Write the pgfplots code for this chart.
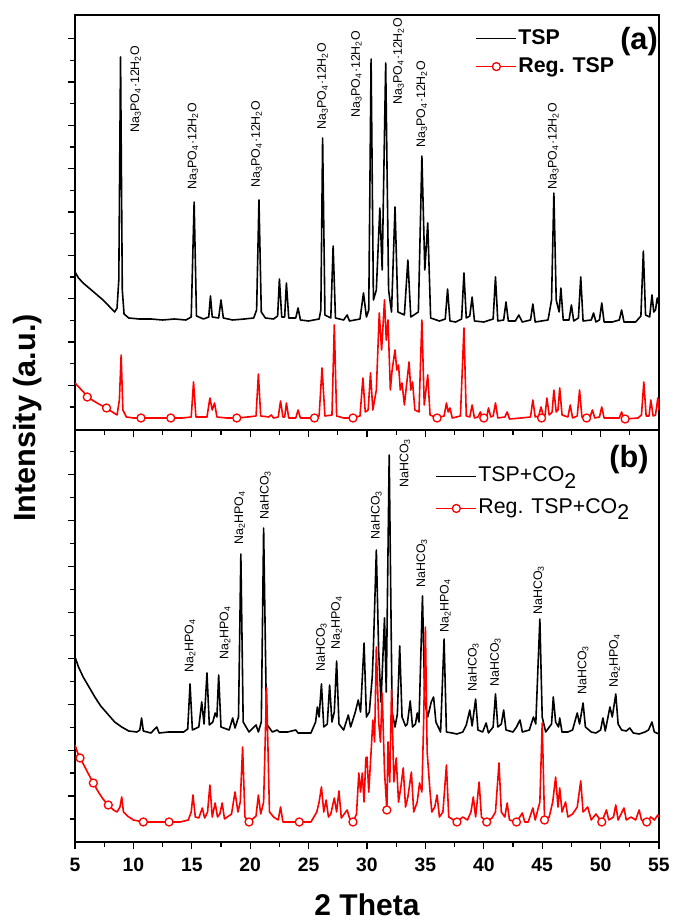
\documentclass[border=0pt]{standalone}
\usepackage{fontspec}
\setmainfont{Liberation Sans}
\usepackage{pgfplots}
\pgfplotsset{compat=1.18}

\newcommand\tickfont{\bfseries\fontsize{14.5}{14.5}\selectfont}
\newcommand\annfont{\fontsize{9.3}{9.3}\selectfont}
\newcommand\NPO{Na\textsubscript{3}PO\textsubscript{4}·12H\textsubscript{2}O}
\newcommand\NHP{Na\textsubscript{2}HPO\textsubscript{4}}
\newcommand\NHC{NaHCO\textsubscript{3}}
\newcommand\subtwo{\raisebox{-5pt}{2}}

\tikzset{lbl/.style={rotate=90, anchor=west, inner sep=0pt, font=\annfont}}
\pgfplotsset{
  xrd/.style={
    scale only axis, width=438pt,
    xmin=5, xmax=55, ymin=0,
    xtick={5,10,...,55}, minor xtick={7.5,12.5,...,52.5},
    tick align=outside, xtick pos=left, ytick pos=left,
    major tick length=5.5pt, minor tick length=3.5pt,
    every tick/.style={black, line width=0.9pt},
    axis line style={line width=1.1pt},
    yticklabels={},
    every axis plot/.append style={line join=round, line width=1.2pt},
    legend image code/.code={\draw[mark repeat=2,mark phase=2]
      plot coordinates {(0pt,0pt) (15pt,0pt) (30pt,0pt)};},
    legend cell align=left,
  },
  regmark/.style={only marks, red, mark=*, mark size=3pt,
    mark options={fill=white, draw=red, line width=1pt}},
}

\begin{document}
\begin{tikzpicture}
\useasboundingbox (-56.25pt,-59.25pt) rectangle (450pt,631.5pt);

% ---------------- panel (a)
\begin{axis}[xrd, at={(0pt,309pt)}, anchor=south west,
  height=311.25pt, ymax=415, xticklabels={},
  ytick={44.67,88,131.33,174.67,218,261.33,304.67,348,391.33},
  minor ytick={23,66.33,109.67,153,196.33,239.67,283,326.33,369.67},
  legend style={draw=none, fill=none, at={(0.6856,0.971)}, anchor=north west,
    inner sep=0pt, row sep=4pt, font=\bfseries\fontsize{16}{16}\selectfont,
    nodes={inner sep=1pt, text height=12pt, text depth=3pt}},
]
\addplot[black, forget plot] coordinates {
(5.0,158) (5.3,152) (5.7,147) (6.2,142) (6.6,138) (7.0,134) (7.4,130) (7.9,124)
(8.4,118) (8.6,122) (8.75,150) (8.9,373) (9.05,140) (9.2,116) (9.6,112) (10.5,111)
(11.5,111) (12.5,110) (13.5,111) (14.5,110) (14.95,113) (15.2,228) (15.4,114)
(16.0,111) (16.45,113) (16.6,134) (16.75,113) (17.3,112) (17.5,130) (17.7,112)
(18.5,110) (19.5,111) (20.3,112) (20.55,120) (20.75,230) (20.95,118) (21.3,112)
(22.0,111) (22.35,114) (22.5,151) (22.7,113) (22.95,113) (23.1,147) (23.3,112)
(23.9,112) (24.1,122) (24.3,110) (25.0,109) (25.9,111) (26.05,120) (26.2,292)
(26.4,115) (26.9,112) (27.1,184) (27.3,112) (28.0,110) (28.3,115) (28.5,109)
(29.4,111) (29.7,137) (29.95,113) (30.15,120) (30.35,371) (30.55,130) (30.8,140)
(31.1,222) (31.3,160) (31.6,367) (31.85,140) (32.1,118) (32.4,223) (32.65,118)
(33.2,115) (33.5,170) (33.75,113) (34.4,118) (34.7,274) (34.95,160) (35.2,207)
(35.45,112) (36.2,109) (36.7,111) (36.9,141) (37.1,109) (37.6,108) (38.1,111)
(38.3,157) (38.5,112) (38.8,114) (39.0,133) (39.2,109) (40.0,108) (40.8,111)
(41.0,153) (41.2,109) (41.7,110) (41.9,128) (42.1,109) (42.7,109) (43.0,115)
(43.3,108) (44.0,110) (44.2,126) (44.4,108) (45.5,110) (45.8,130) (46.0,237)
(46.2,130) (46.45,118) (46.6,142) (46.8,110) (47.3,110) (47.5,125) (47.7,109)
(48.1,112) (48.3,153) (48.5,109) (49.2,110) (49.4,117) (49.6,108) (49.9,110)
(50.1,127) (50.3,108) (51.0,108) (51.6,110) (51.8,120) (52.0,108) (53.0,108)
(53.45,114) (53.66,179) (53.85,115) (54.2,113) (54.4,135) (54.55,118) (54.7,120)
(54.85,132) (55.0,125)
};
\addplot[red, forget plot] coordinates {
(5.0,47) (5.4,42) (5.8,37) (6.05,33) (6.6,29) (7.2,25) (7.7,22) (8.2,18) (8.6,15)
(8.8,30) (8.95,75) (9.1,20) (9.4,13) (10.0,12) (10.65,12) (11.5,12) (12.5,12)
(13.2,12) (14.2,12) (14.95,13) (15.15,48) (15.35,13) (16.3,13) (16.55,32) (16.75,20)
(16.95,27) (17.15,13) (18.0,12) (18.85,12) (19.8,13) (20.5,14) (20.7,56) (20.9,14)
(21.6,13) (21.8,15) (22.0,12) (22.4,13) (22.6,29) (22.8,13) (22.95,13) (23.1,27)
(23.3,12) (23.9,12) (24.1,20) (24.3,12) (25.5,12) (25.9,14) (26.15,62) (26.4,14)
(27.0,15) (27.2,105) (27.4,14) (28.0,12) (28.8,12) (29.4,14) (29.65,52) (29.85,18)
(30.1,20) (30.3,57) (30.5,20) (30.8,40) (31.05,117) (31.25,80) (31.5,130) (31.65,90)
(31.8,110) (32.0,40) (32.15,60) (32.4,80) (32.55,60) (32.7,65) (32.85,40) (33.0,47)
(33.2,25) (33.6,68) (33.75,40) (33.9,48) (34.1,20) (34.45,18) (34.7,110) (34.9,25)
(35.2,55) (35.4,15) (36.0,12) (36.6,14) (36.8,27) (36.95,18) (37.1,22) (37.3,12)
(38.0,14) (38.3,102) (38.5,14) (38.8,13) (39.0,25) (39.2,12) (39.5,13) (39.7,18)
(39.9,12) (40.0,12) (40.25,13) (40.4,22) (40.6,13) (40.8,14) (41.0,27) (41.2,12)
(41.8,13) (42.0,18) (42.2,11) (43.2,12) (44.0,13) (44.2,30) (44.4,13) (44.7,14)
(44.9,23) (45.1,14) (45.25,15) (45.4,32) (45.6,15) (45.85,18) (46.0,40) (46.2,18)
(46.35,20) (46.5,42) (46.7,15) (47.2,13) (47.4,25) (47.6,12) (48.0,14) (48.2,40)
(48.4,13) (48.8,12) (49.1,13) (49.3,20) (49.5,12) (49.9,13) (50.1,23) (50.3,12)
(51.6,12) (51.8,18) (52.0,11) (52.1,11) (53.2,12) (53.5,15) (53.7,48) (53.9,14)
(54.15,14) (54.3,30) (54.5,14) (54.7,15) (54.9,32) (55.0,20)
};
\addplot[regmark, forget plot] coordinates {
(6.05,33) (7.7,22) (10.65,12) (13.2,12) (18.85,12) (25.5,12) (28.8,12)
(36.0,12) (40.0,12) (44.95,12) (48.8,12) (52.1,11)
};
\addlegendimage{black, line width=1.1pt}
\addlegendentry{TSP}
\addlegendimage{red, line width=1.1pt, mark=*, mark size=3pt,
  mark options={fill=white, draw=red, line width=1pt}}
\addlegendentry{Reg. TSP}

\node[lbl] at (axis cs:10.2,297) {\NPO};
\node[lbl] at (axis cs:15.1,240) {\NPO};
\node[lbl] at (axis cs:20.55,242) {\NPO};
\node[lbl] at (axis cs:26.2,300) {\NPO};
\node[lbl] at (axis cs:29.1,312) {\NPO};
\node[lbl] at (axis cs:32.7,325) {\NPO};
\node[lbl] at (axis cs:34.7,282) {\NPO};
\node[lbl] at (axis cs:45.95,240) {\NPO};
\node[font=\bfseries\fontsize{23}{23}\selectfont] at (axis cs:53.29,388) {(a)};
\end{axis}

% ---------------- panel (b)
\begin{axis}[xrd, at={(0pt,0pt)}, anchor=south west,
  height=309pt, ymax=412,
  xticklabels={5,10,15,20,25,30,35,40,45,50,55},
  xticklabel style={font=\tickfont, yshift=-3pt},
  ytick={45.96,91.88,137.8,183.72,229.64,275.56,321.48,367.4},
  minor ytick={23,68.92,114.84,160.76,206.68,252.6,298.52,344.44,390.36},
  xlabel={2 Theta},
  xlabel style={font=\bfseries\fontsize{22.5}{22.5}\selectfont,
    at={(axis description cs:0.5,0)}, anchor=center, yshift=-47pt},
  legend style={draw=none, fill=none, at={(0.617,0.918)}, anchor=north west,
    inner sep=0pt, row sep=4.8pt, font=\fontsize{16}{16}\selectfont,
    nodes={inner sep=1pt, text height=12pt, text depth=5pt}},
]
\addplot[black, forget plot] coordinates {
(5.0,185) (5.3,175) (5.7,165) (6.2,155) (6.7,145) (7.2,136) (7.8,128) (8.4,120)
(9.0,115) (9.6,111) (10.3,110) (10.55,112) (10.7,124) (10.85,111) (11.5,109)
(12.0,115) (12.2,109) (13.0,110) (13.5,110) (14.3,110) (14.65,113) (14.85,158)
(15.05,112) (15.6,115) (15.85,140) (16.05,118) (16.3,169) (16.5,117) (16.8,120)
(17.0,129) (17.15,125) (17.3,167) (17.5,115) (18.2,112) (18.5,124) (18.7,114)
(19.0,125) (19.2,288) (19.4,120) (19.9,110) (20.5,117) (20.7,110) (20.95,120)
(21.15,314) (21.4,118) (21.9,110) (22.3,112) (22.5,110) (23.2,110) (23.9,112)
(24.1,109) (25.2,109) (25.6,120) (25.75,135) (25.9,125) (26.1,158) (26.3,115)
(26.6,118) (26.8,157) (27.0,120) (27.2,130) (27.4,181) (27.6,118) (28.0,112)
(28.4,127) (28.6,115) (29.0,130) (29.25,142) (29.45,130) (29.75,199) (29.95,125)
(30.2,130) (30.45,165) (30.55,195) (30.8,292) (31.0,190) (31.2,140) (31.5,224)
(31.65,150) (31.9,387) (32.15,130) (32.4,115) (32.6,128) (32.8,196) (33.0,125)
(33.3,116) (33.45,118) (33.7,141) (33.9,115) (34.15,118) (34.3,129) (34.45,120)
(34.75,246) (34.95,140) (35.2,125) (35.5,140) (35.7,145) (35.9,120) (36.3,110)
(36.6,203) (36.8,110) (37.3,109) (37.7,108) (38.2,110) (38.5,117) (38.8,132)
(39.0,116) (39.3,143) (39.5,112) (39.9,110) (40.2,119) (40.4,109) (40.8,115)
(41.0,148) (41.2,115) (41.5,118) (41.7,132) (41.9,112) (42.5,110) (42.8,115)
(43.1,122) (43.3,110) (43.9,112) (44.25,125) (44.45,118) (44.8,223) (45.0,125)
(45.3,110) (45.8,118) (45.95,145) (46.15,120) (46.4,115) (46.5,124) (46.7,110)
(47.2,110) (47.6,112) (48.0,129) (48.2,118) (48.5,139) (48.7,115) (49.2,110)
(49.6,109) (50.0,112) (50.2,124) (50.4,111) (50.8,135) (51.0,125) (51.3,148)
(51.5,118) (51.8,112) (52.2,111) (52.5,114) (52.8,109) (53.3,108) (53.8,110)
(54.1,112) (54.4,120) (54.6,110) (55.0,108)
};
\addplot[red, forget plot] coordinates {
(5.0,97) (5.2,90) (5.43,84) (5.8,76) (6.2,67) (6.57,59) (7.0,50) (7.4,43) (7.85,37)
(8.3,32) (8.6,30) (8.85,35) (9.0,45) (9.15,30) (9.5,26) (10.0,22) (10.85,20)
(11.8,20) (13.05,20) (14.0,20) (14.7,22) (14.95,30) (15.1,47) (15.3,25) (15.6,24)
(15.9,34) (16.1,24) (16.35,30) (16.55,57) (16.75,25) (17.0,39) (17.2,25) (17.4,28)
(17.6,39) (17.8,23) (18.4,28) (18.7,50) (18.95,30) (19.15,40) (19.35,95) (19.55,25)
(19.9,20) (20.5,26) (20.7,47) (20.9,28) (21.15,40) (21.4,154) (21.65,30) (22.0,25)
(22.4,22) (22.6,35) (22.8,20) (23.5,20) (24.2,20) (25.2,20) (25.7,30) (25.9,40)
(26.1,55) (26.3,30) (26.5,42) (26.7,25) (26.9,28) (27.2,44) (27.4,30) (27.6,51)
(27.8,24) (28.3,32) (28.5,24) (28.8,20) (29.1,28) (29.3,69) (29.45,50) (29.6,69)
(29.75,40) (29.9,84) (30.0,85) (30.15,50) (30.35,90) (30.5,122) (30.65,100)
(30.8,195) (31.0,120) (31.15,100) (31.3,149) (31.5,70) (31.7,32) (31.8,100)
(31.95,60) (32.1,152) (32.3,60) (32.5,84) (32.7,40) (32.9,55) (33.1,74) (33.3,35)
(33.5,45) (33.8,70) (34.0,30) (34.3,40) (34.5,59) (34.7,50) (34.85,120) (35.0,215)
(35.15,90) (35.4,50) (35.55,30) (35.8,35) (36.0,47) (36.2,25) (36.5,30) (36.8,77)
(37.0,25) (37.4,22) (37.7,20) (38.2,25) (38.6,22) (38.9,30) (39.1,45) (39.3,25)
(39.6,60) (39.8,25) (40.25,20) (40.7,24) (41.0,30) (41.3,79) (41.5,30) (41.8,25)
(42.0,39) (42.2,22) (42.8,20) (43.3,29) (43.5,20) (43.8,20) (44.2,34) (44.4,22)
(44.8,40) (45.0,119) (45.2,22) (45.6,25) (45.9,40) (46.15,65) (46.35,35) (46.5,54)
(46.7,30) (47.0,40) (47.2,25) (47.6,28) (48.0,35) (48.3,61) (48.5,30) (48.9,35)
(49.2,22) (49.6,28) (50.1,20) (50.5,32) (50.7,22) (51.1,25) (51.3,37) (51.5,22)
(52.0,34) (52.2,22) (52.6,25) (53.0,22) (53.3,32) (53.5,22) (53.95,20) (54.3,25)
(54.6,22) (54.9,27) (55.0,25)
};
\addplot[regmark, forget plot] coordinates {
(5.43,84) (6.57,59) (7.85,37) (10.85,20) (13.05,20) (19.9,20) (24.2,20) (28.8,20)
(31.7,32) (37.7,20) (40.25,20) (42.8,20) (45.2,22) (50.1,20) (53.95,20)
};
\addlegendimage{black, line width=1.1pt}
\addlegendentry{TSP+CO\subtwo}
\addlegendimage{red, line width=1.1pt, mark=*, mark size=3pt,
  mark options={fill=white, draw=red, line width=1pt}}
\addlegendentry{Reg. TSP+CO\subtwo}

\node[lbl] at (axis cs:14.85,169) {\NHP};
\node[lbl] at (axis cs:17.85,182) {\NHP};
\node[lbl] at (axis cs:19.1,297) {\NHP};
\node[lbl] at (axis cs:21.3,322) {\NHC};
\node[lbl] at (axis cs:26.1,170) {\NHC};
\node[lbl] at (axis cs:27.4,192) {\NHP};
\node[lbl] at (axis cs:30.8,302) {\NHC};
\node[lbl] at (axis cs:33.25,354) {\NHC};
\node[lbl] at (axis cs:34.7,254) {\NHC};
\node[lbl] at (axis cs:36.7,209) {\NHP};
\node[lbl] at (axis cs:39.1,150) {\NHC};
\node[lbl] at (axis cs:41.0,155) {\NHC};
\node[lbl] at (axis cs:44.7,227) {\NHC};
\node[lbl] at (axis cs:48.5,147) {\NHC};
\node[lbl] at (axis cs:51.2,154) {\NHP};
\node[font=\bfseries\fontsize{23}{23}\selectfont] at (axis cs:52.43,382) {(b)};
\end{axis}

\node[rotate=90, font=\bfseries\fontsize{23}{23}\selectfont]
  at (-35.25pt,318pt) {Intensity (a.u.)};
\end{tikzpicture}
\end{document}
